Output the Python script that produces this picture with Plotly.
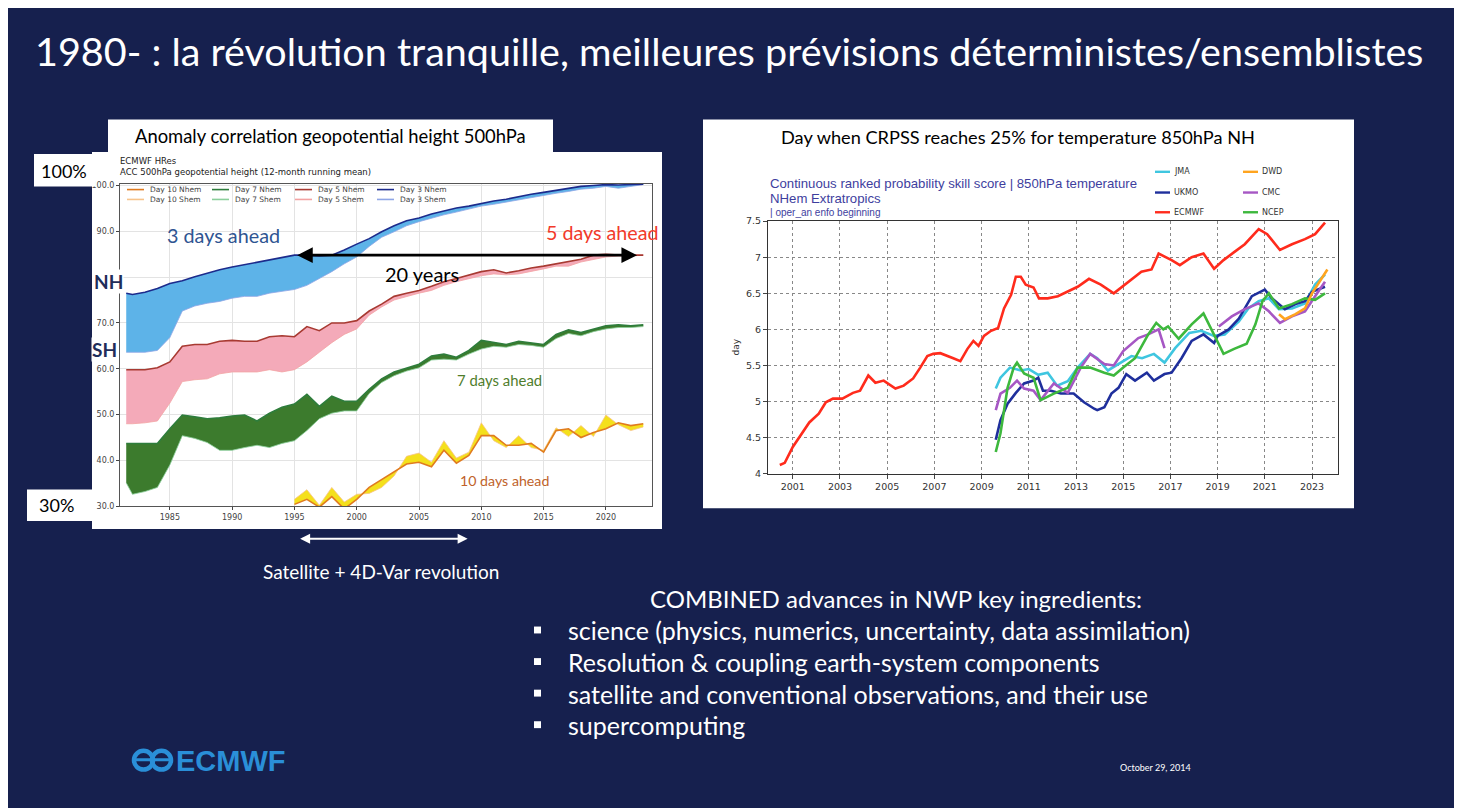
import plotly.graph_objects as go

W, H = 1462, 808
BG = "#16204e"
FONT = "Lato"

# ---------------- Left chart data (ACC %, 12-month running mean) ----------------
acc_years = [1981.5] + list(range(1982, 2024))
day3_nh = [76.5, 76.2, 76.7, 77.5, 78.6, 79.2, 80.1, 80.9, 81.6, 82.2, 82.7, 83.3, 83.7, 84.2, 84.8,
           84.8, 84.6, 84.8, 85.9, 87.2, 88.4, 89.9, 91.2, 92.3, 92.9, 93.8, 94.4, 95.1, 95.5, 96.1,
           96.6, 97.0, 97.6, 98.1, 98.5, 98.9, 99.4, 99.8, 100.0, 100.2, 100.1, 100.2, 100.3]
day3_sh = [63.6, 63.6, 63.6, 64.0, 66.8, 72.6, 73.7, 74.3, 74.7, 75.4, 75.8, 75.8, 76.5, 76.9, 77.3,
           78.2, 79.7, 81.2, 82.9, 84.4, 86.7, 88.7, 89.9, 91.2, 92.1, 92.9, 93.6, 94.2, 94.9, 95.5,
           95.9, 96.4, 96.8, 97.4, 97.9, 98.3, 98.7, 99.2, 99.4, 99.8, 99.4, 99.8, 100.2]
day5_nh = [59.8, 59.8, 59.8, 60.2, 61.5, 64.9, 65.3, 65.3, 66.0, 66.2, 66.0, 66.0, 67.0, 67.2, 67.0,
           69.2, 68.3, 70.0, 70.0, 70.5, 72.6, 74.1, 75.8, 76.5, 77.1, 78.0, 79.0, 79.7, 80.5, 81.2,
           81.6, 80.9, 81.4, 82.0, 82.4, 82.9, 83.5, 83.9, 84.8, 85.0, 84.8, 84.8, 84.8]
day5_sh = [48.0, 48.0, 48.2, 48.6, 52.5, 57.2, 57.6, 57.8, 58.9, 59.3, 59.3, 59.3, 59.8, 59.3, 59.8,
           61.5, 63.6, 65.7, 67.5, 68.7, 71.7, 73.5, 75.0, 75.8, 76.5, 77.1, 78.2, 79.0, 79.7, 80.3,
           80.7, 80.5, 80.7, 81.2, 81.8, 82.4, 82.4, 83.3, 83.9, 84.4, 84.6, 84.6, 84.8]
day7_nh = [43.7, 43.7, 43.7, 43.7, 46.9, 49.9, 49.5, 49.1, 49.3, 49.7, 49.9, 48.6, 50.3, 51.6, 52.3,
           54.4, 51.8, 54.0, 52.9, 52.9, 55.5, 57.8, 59.3, 60.2, 61.0, 62.8, 63.2, 62.5, 64.0, 66.2,
           65.7, 65.3, 66.0, 65.7, 65.3, 67.5, 68.5, 67.9, 68.7, 69.4, 69.6, 69.4, 69.6]
day7_sh = [35.1, 32.6, 33.2, 34.1, 39.0, 45.4, 44.8, 43.9, 42.2, 42.2, 42.8, 43.3, 42.8, 43.7, 44.3,
           46.5, 49.1, 50.3, 50.8, 50.8, 54.6, 57.0, 58.5, 59.5, 60.2, 61.9, 62.1, 61.9, 63.2, 64.3,
           64.9, 64.7, 65.3, 65.1, 64.7, 66.6, 67.7, 67.2, 68.1, 68.7, 69.0, 69.0, 69.2]
day10_nh = [None] * 14 + [30.4, 31.5, 29.8, 32.1, 29.4, 31.5, 34.1, 35.8, 37.5, 39.2, 39.6, 38.6, 42.2,
                          39.4, 41.1, 45.4, 45.4, 43.3, 43.3, 43.7, 41.8, 46.5, 46.9, 45.0, 46.1, 46.9,
                          48.2, 47.6, 48.0]
day10_sh = [None] * 14 + [31.5, 33.6, 30.2, 34.1, 30.9, 32.6, 32.8, 34.1, 36.6, 40.9, 41.6, 39.6, 44.3,
                          40.5, 41.8, 48.2, 44.3, 42.8, 45.4, 42.8, 42.2, 47.1, 45.2, 47.6, 45.2, 49.9,
                          47.8, 46.5, 47.3]
nh_names = ["Day 10 Nhem", "Day 7 Nhem", "Day 5 Nhem", "Day 3 Nhem"]
sh_names = ["Day 10 Shem", "Day 7 Shem", "Day 5 Shem", "Day 3 Shem"]
acc_xticks = [1985, 1990, 1995, 2000, 2005, 2010, 2015, 2020]
acc_yticks = [30, 40, 50, 60, 70, 80, 90, 100]

# ---------------- Right chart data (day when CRPSS reaches 25%) ----------------
ecmwf = [(2000.45, 4.12), (2000.66, 4.15), (2001.0, 4.37), (2001.3, 4.51), (2001.7, 4.71), (2002.1, 4.83),
         (2002.4, 4.99), (2002.7, 5.04), (2003.1, 5.04), (2003.55, 5.12), (2003.85, 5.15), (2004.2, 5.36),
         (2004.5, 5.26), (2004.85, 5.29), (2005.35, 5.18), (2005.7, 5.22), (2006.1, 5.32), (2006.4, 5.47),
         (2006.7, 5.63), (2006.95, 5.66), (2007.25, 5.67), (2007.8, 5.60), (2008.1, 5.56), (2008.4, 5.73),
         (2008.65, 5.84), (2008.87, 5.77), (2009.1, 5.91), (2009.4, 5.98), (2009.7, 6.02), (2009.95, 6.29),
         (2010.25, 6.48), (2010.45, 6.73), (2010.66, 6.73), (2010.87, 6.62), (2011.2, 6.58), (2011.43, 6.43),
         (2011.8, 6.43), (2012.23, 6.46), (2012.65, 6.52), (2013.07, 6.59), (2013.55, 6.70), (2014.05, 6.62),
         (2014.6, 6.50), (2015.34, 6.69), (2015.77, 6.80), (2016.2, 6.83), (2016.5, 7.05), (2017.05, 6.96),
         (2017.4, 6.89), (2017.9, 7.00), (2018.4, 7.05), (2018.85, 6.84), (2019.25, 6.96), (2019.7, 7.07),
         (2020.15, 7.18), (2020.74, 7.39), (2021.1, 7.32), (2021.64, 7.10), (2022.15, 7.18), (2022.7, 7.25),
         (2023.13, 7.32), (2023.55, 7.48)]
jma = [(2009.6, 5.18), (2009.8, 5.33), (2010.2, 5.47), (2010.66, 5.43), (2011.0, 5.45), (2011.4, 5.37),
       (2011.8, 5.40), (2012.2, 5.22), (2012.65, 5.28), (2013.07, 5.47), (2013.6, 5.66), (2013.9, 5.60),
       (2014.35, 5.43), (2014.8, 5.52), (2015.35, 5.63), (2015.8, 5.60), (2016.3, 5.66), (2016.75, 5.54),
       (2017.2, 5.74), (2017.8, 5.95), (2018.3, 5.98), (2018.85, 5.91), (2019.3, 5.93), (2019.9, 6.11),
       (2020.3, 6.29), (2020.74, 6.39), (2021.17, 6.43), (2021.6, 6.28), (2022.15, 6.29), (2022.7, 6.36),
       (2023.13, 6.62), (2023.55, 6.76)]
ukmo = [(2009.6, 4.47), (2009.8, 4.74), (2010.1, 4.97), (2010.45, 5.12), (2010.8, 5.25), (2011.2, 5.29),
        (2011.4, 5.33), (2011.6, 5.15), (2011.94, 5.15), (2012.36, 5.11), (2012.9, 5.11), (2013.34, 4.99),
        (2013.77, 4.90), (2013.9, 4.88), (2014.2, 4.92), (2014.5, 5.11), (2014.8, 5.19), (2015.13, 5.38),
        (2015.5, 5.29), (2016.0, 5.40), (2016.3, 5.29), (2016.75, 5.38), (2017.05, 5.40), (2017.47, 5.60),
        (2017.9, 5.84), (2018.4, 5.93), (2018.85, 5.81), (2019.0, 5.91), (2019.47, 6.00), (2019.9, 6.15),
        (2020.45, 6.46), (2021.0, 6.55), (2021.3, 6.43), (2021.85, 6.28), (2022.3, 6.35), (2022.7, 6.39),
        (2023.0, 6.52), (2023.55, 6.59)]
cmc = [(2009.6, 4.88), (2009.8, 5.11), (2010.2, 5.19), (2010.5, 5.29), (2010.8, 5.18), (2011.2, 5.15),
       (2011.5, 5.02), (2012.06, 5.25), (2012.65, 5.12), (2012.9, 5.29), (2013.2, 5.47), (2013.6, 5.66),
       (2014.2, 5.52), (2014.6, 5.50), (2015.0, 5.70), (2015.64, 5.88), (2016.06, 5.93), (2016.5, 6.00),
       (2016.75, 5.74), (2017.9, None), (2019.05, 6.04), (2019.6, 6.18), (2020.15, 6.28), (2020.74, 6.36),
       (2021.17, 6.25), (2021.64, 6.09), (2022.15, 6.18), (2022.7, 6.25), (2023.13, 6.46), (2023.55, 6.66)]
ncep = [(2009.6, 4.30), (2009.8, 4.56), (2010.1, 5.19), (2010.36, 5.47), (2010.5, 5.54), (2010.8, 5.39),
        (2011.2, 5.33), (2011.5, 5.02), (2012.06, 5.11), (2012.65, 5.19), (2013.07, 5.47), (2013.6, 5.47),
        (2014.2, 5.40), (2014.6, 5.36), (2015.0, 5.47), (2015.5, 5.60), (2016.06, 5.93), (2016.4, 6.09),
        (2016.7, 6.00), (2016.9, 6.04), (2017.35, 5.87), (2017.9, 6.07), (2018.4, 6.22), (2018.85, 5.93),
        (2019.25, 5.66), (2019.7, 5.73), (2020.23, 5.80), (2020.6, 6.07), (2020.9, 6.39), (2021.17, 6.50),
        (2021.6, 6.29), (2022.15, 6.35), (2022.7, 6.43), (2023.13, 6.41), (2023.55, 6.50)]
dwd = [(2021.6, 6.21), (2021.85, 6.14), (2022.3, 6.21), (2022.7, 6.29), (2023.0, 6.50), (2023.3, 6.66),
       (2023.65, 6.83)]
crps_xticks = list(range(2001, 2024, 2))
crps_yticks = [4, 4.5, 5, 5.5, 6, 6.5, 7, 7.5]

bullets = ["science (physics, numerics, uncertainty, data assimilation)",
           "Resolution & coupling earth-system components",
           "satellite and conventional observations, and their use",
           "supercomputing"]

OFF = 8  # page margin of the browser


def PX(x):
    return (x - OFF) / W


def PY(y):
    return 1 - (y - OFF) / H


def txt(s, x, y, size, color, family=FONT, xa="center", ya="middle", **kw):
    return dict(text=s, x=PX(x), y=PY(y), xref="paper", yref="paper", showarrow=False,
                xanchor=xa, yanchor=ya, font=dict(family=family, size=size, color=color), **kw)


def dtxt(s, x, y, size, color, xr="x", yr="y"):
    return dict(text=s, x=x, y=y, xref=xr, yref=yr, showarrow=False, xanchor="center",
                yanchor="middle", font=dict(family=FONT, size=size, color=color))


fig = go.Figure()

# ---- left chart traces ----
bands = [
    (day3_sh, day3_nh, "#8fa6e6", "#1c2b8c", "#5db3e8"),
    (day5_sh, day5_nh, "#f3a3a3", "#a83a32", "#f4aab9"),
    (day7_sh, day7_nh, "#8ccf9c", "#2e7d3c", "#3c7b2d"),
    (day10_sh, day10_nh, "#f7c48c", "#e07b20", "#f4e01c"),
]
for sh, nh, shc, nhc, fc in bands:
    xs = [x for x, v in zip(acc_years, nh) if v is not None]
    shv = [v for v in sh if v is not None]
    nhv = [v for v in nh if v is not None]
    fig.add_trace(go.Scatter(x=xs, y=shv, mode="lines", line=dict(color=shc, width=0.8),
                             showlegend=False, xaxis="x", yaxis="y", hoverinfo="skip"))
    fig.add_trace(go.Scatter(x=xs, y=nhv, mode="lines", line=dict(color=nhc, width=1.6),
                             fill="tonexty", fillcolor=fc, showlegend=False,
                             xaxis="x", yaxis="y", hoverinfo="skip"))

# ---- right chart traces ----
models = [("JMA", jma, "#3fc6e0"), ("UKMO", ukmo, "#1f2f9c"), ("CMC", cmc, "#a657c4"),
          ("NCEP", ncep, "#3db83d"), ("DWD", dwd, "#ffa41f"), ("ECMWF", ecmwf, "#ff2b1c")]
for name, pts, col in models:
    fig.add_trace(go.Scatter(x=[p[0] for p in pts], y=[p[1] for p in pts], mode="lines",
                             line=dict(color=col, width=2.6), name=name, showlegend=False,
                             xaxis="x2", yaxis="y2", connectgaps=False))

shapes = []
ann = []


def rect(x0, x1, y0, y1, color, layer="below"):
    return dict(type="rect", xref="paper", yref="paper", x0=PX(x0), x1=PX(x1), y0=PY(y1), y1=PY(y0),
                fillcolor=color, line_width=0, layer=layer)


# panels
shapes += [
    rect(108, 553, 115, 148, "white"),
    rect(92, 662, 148, 530, "white"),
    rect(703, 1354, 115, 509, "white"),
    rect(34, 95, 150, 183, "white", "above"),
    rect(27, 95, 490, 522, "white", "above"),
]

# slide title and panel titles
ann.append(txt("1980- : la révolution tranquille, meilleures prévisions déterministes/ensemblistes",
               729, 45, 39.5, "white"))
ann.append(txt("Anomaly correlation geopotential height 500hPa", 330, 132, 18.4, "black"))
ann.append(txt("Day when CRPSS reaches 25% for temperature 850hPa NH", 1018, 133, 18.2, "black"))
ann.append(txt("100%", 64, 167, 18, "black"))
ann.append(txt("30%", 56, 506, 18, "black"))
ann.append(txt("<b>NH</b>", 93, 279, 19, "#1f2d5a", xa="left", bgcolor="white", borderpad=0))
ann.append(txt("<b>SH</b>", 91, 348, 19, "#1f2d5a", xa="left", bgcolor="white", borderpad=0))
ann.append(txt("ECMWF HRes", 118, 157, 8.5, "#222", family="DejaVu Sans", xa="left"))
ann.append(txt("ACC 500hPa geopotential height (12-month running mean)", 118, 168, 8.5, "#222",
               family="DejaVu Sans", xa="left"))

# left legend
nh_cols = ["#e07b20", "#2e7d3c", "#a83a32", "#1c2b8c"]
sh_cols = ["#f7c48c", "#8ccf9c", "#f3a3a3", "#8fa6e6"]
col_x = [127, 212, 295, 377]
for row_y, names, cols in [(186, nh_names, nh_cols), (196, sh_names, sh_cols)]:
    for cx, nm, c in zip(col_x, names, cols):
        shapes.append(dict(type="line", xref="paper", yref="paper", x0=PX(cx), x1=PX(cx + 17),
                           y0=PY(row_y), y1=PY(row_y), line=dict(color=c, width=1.6)))
        ann.append(txt(nm, cx + 21, row_y, 7.5, "#444", family="DejaVu Sans", xa="left"))

# left chart annotations
ann += [
    dtxt("3 days ahead", 1989.3, 89.1, 19.8, "#2f5592"),
    dtxt("5 days ahead", 2019.7, 89.7, 19.7, "#f23a2a"),
    dtxt("20 years", 2005.2, 80.7, 20, "black"),
    dtxt("7 days ahead", 2011.45, 57.6, 14.9, "#4f7d2c"),
    dtxt("10 days ahead", 2011.9, 35.6, 14.2, "#c0622a"),
    dict(text="", x=2022.5, y=84.8, ax=1995.1, ay=84.8, xref="x", yref="y", axref="x", ayref="y",
         showarrow=True, arrowhead=2, arrowside="end+start", arrowsize=1.2, arrowwidth=2.6,
         arrowcolor="black"),
    dict(text="", x=2008.9, y=PY(540), ax=-169, ay=0, xref="x", yref="paper", axref="pixel",
         ayref="pixel", showarrow=True, arrowhead=2, arrowside="end+start", arrowsize=1,
         arrowwidth=2, arrowcolor="white"),
    txt("Satellite + 4D-Var revolution", 381, 573, 19, "white"),
]

# right chart texts
ann.append(txt("Continuous ranked probability skill score | 850hPa temperature", 768, 180, 13.2,
               "#3e3e9e", family="Liberation Sans", xa="left"))
ann.append(txt("NHem Extratropics", 768, 195, 13.2, "#3e3e9e", family="Liberation Sans", xa="left"))
ann.append(txt("| oper_an enfo beginning", 768, 209, 10, "#3e3e9e", family="Liberation Sans", xa="left"))
ann.append(txt("day", 736, 346, 9, "#333", family="DejaVu Sans", textangle=-90))

legend_pos = {"JMA": (1155, 168), "UKMO": (1155, 189), "ECMWF": (1155, 209),
              "DWD": (1243, 168), "CMC": (1243, 189), "NCEP": (1243, 209)}
for name, pts, col in models:
    lx, ly = legend_pos[name]
    shapes.append(dict(type="line", xref="paper", yref="paper", x0=PX(lx), x1=PX(lx + 15),
                       y0=PY(ly), y1=PY(ly), line=dict(color=col, width=2.4)))
    ann.append(txt(name, lx + 17, ly, 8, "#333", family="DejaVu Sans", xa="left"))

# bottom text
ann.append(txt("COMBINED advances in NWP key ingredients:", 896, 601, 24, "white"))
for i, b in enumerate(bullets):
    yy = 633 + 32 * i
    shapes.append(rect(534, 541, yy - 4, yy + 3, "white", "above"))
    ann.append(txt(b, 566, yy, 25, "white", xa="left"))

# logo + date
LOGO = "#2a8fd8"
shapes += [
    dict(type="circle", xref="paper", yref="paper", x0=PX(134), x1=PX(153), y0=PY(774), y1=PY(755),
         line=dict(color=LOGO, width=4.5)),
    dict(type="circle", xref="paper", yref="paper", x0=PX(152), x1=PX(171), y0=PY(774), y1=PY(755),
         line=dict(color=LOGO, width=4.5)),
    dict(type="line", xref="paper", yref="paper", x0=PX(133), x1=PX(172), y0=PY(764), y1=PY(764),
         line=dict(color=LOGO, width=3)),
]
ann.append(txt("<b>ECMWF</b>", 174, 765, 29, LOGO, family="Liberation Sans", xa="left"))
ann.append(txt("October 29, 2014", 1155, 772, 9, "white"))

tickfont = dict(family="DejaVu Sans", size=8, color="#444")
rfont = dict(family="DejaVu Sans", size=9.5, color="#333")
fig.update_layout(
    width=W, height=H, margin=dict(l=0, r=0, t=0, b=0),
    paper_bgcolor=BG, plot_bgcolor="white", showlegend=False,
    shapes=shapes, annotations=ann,
    xaxis=dict(domain=[PX(120), PX(652)], range=[1981.0, 2023.7], tickvals=acc_xticks,
               showgrid=True, gridcolor="#e3e3e3", zeroline=False, showline=True, mirror=True,
               linecolor="#555", linewidth=1, ticks="outside", ticklen=3, tickfont=tickfont,
               anchor="y"),
    yaxis=dict(domain=[PY(507), PY(180)], range=[30, 100.4], tickvals=acc_yticks,
               ticktext=[f"{v:.1f}" for v in acc_yticks], showgrid=True, gridcolor="#e3e3e3",
               zeroline=False, showline=True, mirror=True, linecolor="#555", linewidth=1,
               ticks="outside", ticklen=3, tickfont=tickfont, anchor="x"),
    xaxis2=dict(domain=[PX(768), PX(1338)], range=[1999.95, 2024.1], tickvals=crps_xticks,
                showgrid=True, gridcolor="#888", griddash="dot", gridwidth=1, zeroline=False,
                showline=True, mirror=True, linecolor="#333", linewidth=1, ticks="outside",
                ticklen=4, tickfont=rfont, anchor="y2"),
    yaxis2=dict(domain=[PY(474), PY(218)], range=[4, 7.5], tickvals=crps_yticks,
                ticktext=[f"{v:g}" for v in crps_yticks], showgrid=True, gridcolor="#888",
                griddash="dot", gridwidth=1, zeroline=False, showline=True, mirror=True,
                linecolor="#333", linewidth=1, ticks="outside", ticklen=4,
                tickfont=rfont, anchor="x2"),
)

fig.write_html("out.html")
